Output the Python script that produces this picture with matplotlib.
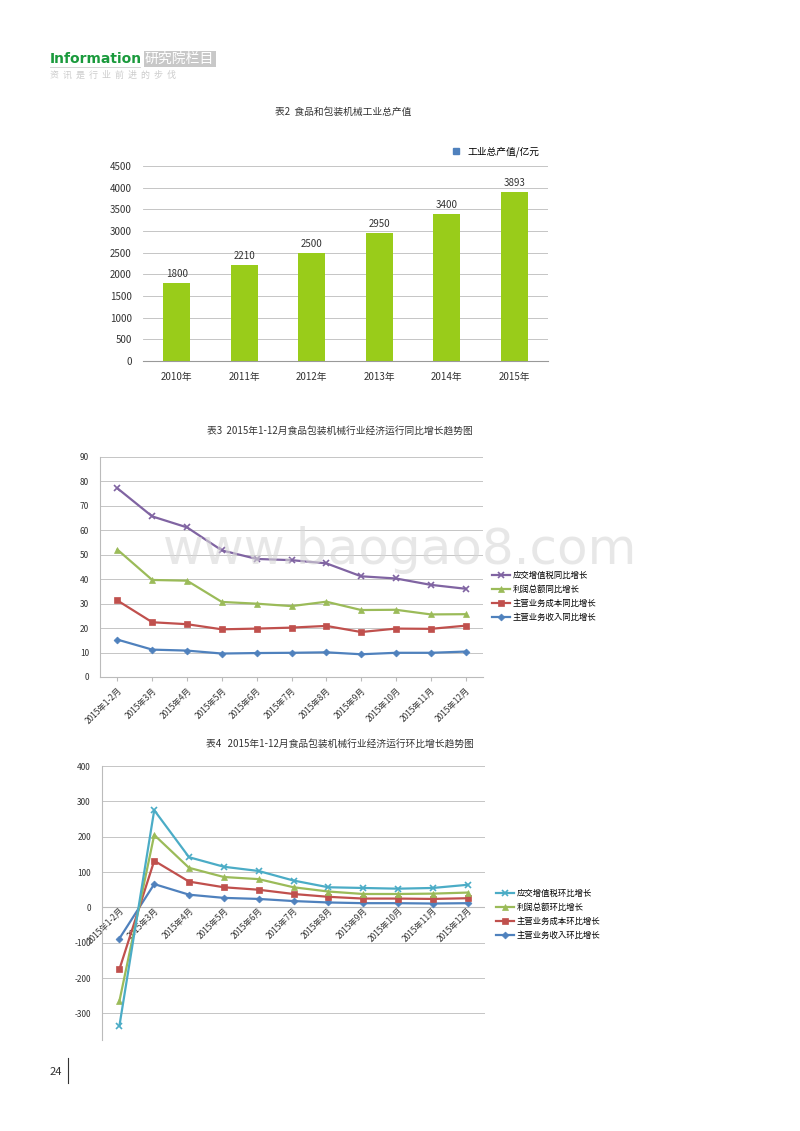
import matplotlib
matplotlib.use("Agg")
import matplotlib.pyplot as plt
from matplotlib.lines import Line2D
from matplotlib import font_manager

cjk = sorted(set(f.name for f in font_manager.fontManager.ttflist if "CJK" in f.name))
sans = [n for n in cjk if "Sans" in n]
pref = sorted(sans or cjk, key=lambda n: 0 if "SC" in n else 1)
plt.rcParams["font.family"] = pref[:1] if pref else ["DejaVu Sans"]
plt.rcParams["axes.unicode_minus"] = False

years = ["2010年", "2011年", "2012年", "2013年", "2014年", "2015年"]
output = [1800, 2210, 2500, 2950, 3400, 3893]

months = ["2015年1-2月", "2015年3月", "2015年4月", "2015年5月", "2015年6月", "2015年7月",
          "2015年8月", "2015年9月", "2015年10月", "2015年11月", "2015年12月"]
yoy_tax = [77.2, 65.7, 61.2, 51.8, 48.3, 47.8, 46.5, 41.2, 40.3, 37.7, 36.1]
yoy_profit = [52.1, 39.7, 39.4, 30.7, 30.0, 29.0, 30.8, 27.4, 27.5, 25.6, 25.7]
yoy_cost = [31.3, 22.4, 21.6, 19.5, 19.8, 20.2, 20.9, 18.4, 19.8, 19.7, 21.0]
yoy_rev = [15.3, 11.2, 10.8, 9.6, 9.8, 9.9, 10.1, 9.3, 9.9, 9.9, 10.4]

mom_tax = [-335, 275, 142, 115, 103, 76, 57, 55, 53, 55, 64]
mom_profit = [-265, 205, 112, 86, 80, 57, 45, 38, 38, 39, 42]
mom_cost = [-175, 132, 73, 57, 50, 38, 30, 25, 25, 24, 26]
mom_rev = [-88, 66, 36, 27, 24, 18, 14, 12, 12, 11, 12]

fig = plt.figure(figsize=(8, 11.31), dpi=100)
tc = "#333333"

# header
fig.text(50/800, 1-59/1131, "Information", color="#1a9a3c", fontsize=10, fontweight="bold", va="center", family="DejaVu Sans")
fig.text(145/800, 1-59/1131, "研究院栏目", color="white", fontsize=10, va="center",
         bbox=dict(facecolor="#c8c8c8", edgecolor="none", pad=1))
fig.text(50/800, 1-75/1131, "资  讯  是  行  业  前  进  的  步  伐", color="#cccccc", fontsize=6.5, va="center")
fig.add_artist(Line2D([50/800, 140/800], [1-67/1131]*2, color="#cccccc", lw=0.6))

# Chart 1
fig.text(343/800, 1-112/1131, "表2  食品和包装机械工业总产值", fontsize=7, ha="center", va="center", color=tc)
ax1 = fig.add_axes([143/800, 1-361/1131, 405/800, 195/1131])
x = range(len(years))
ax1.bar(x, output, width=0.4, color="#99cc1a")
for i, v in enumerate(output):
    ax1.text(i, v + 90, str(v), ha="center", va="bottom", fontsize=7, color=tc)
ax1.set_ylim(0, 4500)
ax1.set_yticks(range(0, 4501, 500))
ax1.set_xlim(-0.5, 5.5)
ax1.set_xticks(list(x))
ax1.set_xticklabels(years)
ax1.grid(axis="y", color="#bbbbbb", lw=0.6)
ax1.set_axisbelow(True)
for s in ["top", "right", "left"]:
    ax1.spines[s].set_visible(False)
ax1.spines["bottom"].set_color("#999999")
ax1.tick_params(labelsize=7, length=0, colors=tc)
ax1.tick_params(axis="y", pad=8)
ax1.tick_params(axis="x", pad=8)
ax1.legend(handles=[Line2D([], [], marker="s", ls="none", color="#4f81bd", markersize=4)],
           labels=["工业总产值/亿元"], loc="lower right", bbox_to_anchor=(1.0, 1.0),
           frameon=False, fontsize=7, handletextpad=0.2)

styles = [("#4f81bd", "D", 3.5), ("#c0504d", "s", 4.5), ("#9bbb59", "^", 5), ("#8064a2", "x", 5)]

def draw_lines(ax, data, names, colors_override=None):
    handles = []
    for (c, m, ms), d, n in zip(styles, data, names):
        if colors_override and m == "x":
            c = colors_override
        h, = ax.plot(range(len(months)), d, color=c, marker=m, markersize=ms, lw=1.6, label=n,
                     markeredgewidth=1.2 if m == "x" else 0.5)
        handles.append(h)
    return handles

# Chart 3
fig.text(340/800, 1-431/1131, "表3  2015年1-12月食品包装机械行业经济运行同比增长趋势图", fontsize=7, ha="center", va="center", color=tc)
ax2 = fig.add_axes([100/800, 1-677/1131, 383/800, 220/1131])
names3 = ["主营业务收入同比增长", "主营业务成本同比增长", "利润总额同比增长", "应交增值税同比增长"]
h3 = draw_lines(ax2, [yoy_rev, yoy_cost, yoy_profit, yoy_tax], names3)
ax2.set_ylim(0, 90)
ax2.set_yticks(range(0, 91, 10))
ax2.set_xlim(-0.5, 10.5)
ax2.set_xticks(range(len(months)))
ax2.set_xticklabels(months, rotation=45, ha="right", rotation_mode="anchor")
ax2.grid(axis="y", color="#bbbbbb", lw=0.6)
ax2.set_axisbelow(True)
for s in ["top", "right"]:
    ax2.spines[s].set_visible(False)
ax2.spines["left"].set_color("#bbbbbb")
ax2.spines["bottom"].set_color("#bbbbbb")
ax2.tick_params(labelsize=6, colors=tc)
ax2.tick_params(axis="y", length=0, pad=8)
ax2.tick_params(axis="x", length=3, color="#bbbbbb")
fig.legend(handles=h3[::-1], labels=names3[::-1], loc="upper left",
           bbox_to_anchor=(484/800, 1-563/1131), frameon=False, fontsize=6,
           handlelength=2.2, labelspacing=0.6, handletextpad=0.3)

fig.text(400/800, 1-550/1131, "www.baogao8.com", fontsize=36, color="#d8d8d8", alpha=0.6,
         ha="center", va="center", zorder=0, family="DejaVu Sans")

# Chart 4
fig.text(340/800, 1-744/1131, "表4   2015年1-12月食品包装机械行业经济运行环比增长趋势图", fontsize=7, ha="center", va="center", color=tc)
ax3 = fig.add_axes([102/800, 1-1040/1131, 383/800, 274/1131])
names4 = ["主营业务收入环比增长", "主营业务成本环比增长", "利润总额环比增长", "应交增值税环比增长"]
h4 = draw_lines(ax3, [mom_rev, mom_cost, mom_profit, mom_tax], names4, colors_override="#4bacc6")
ax3.set_ylim(-375, 400)
ax3.set_yticks(range(-300, 401, 100))
ax3.set_xlim(-0.5, 10.5)
ax3.set_xticks(range(len(months)))
ax3.set_xticklabels(months, rotation=45, ha="right", rotation_mode="anchor")
ax3.grid(axis="y", color="#bbbbbb", lw=0.6)
ax3.set_axisbelow(True)
for s in ["top", "right", "bottom"]:
    ax3.spines[s].set_visible(False)
ax3.spines["left"].set_color("#bbbbbb")
ax3.axhline(0, color="#bbbbbb", lw=0.8, zorder=0)
ax3.tick_params(labelsize=6, colors=tc)
ax3.tick_params(axis="y", length=0, pad=8)
ax3.tick_params(axis="x", length=0, pad=2)
for lab in ax3.get_xticklabels():
    lab.set_y(0.50)
fig.legend(handles=[h4[3], h4[2], h4[1], h4[0]], labels=["应交增值税环比增长", "利润总额环比增长", "主营业务成本环比增长", "主营业务收入环比增长"],
           loc="upper left", bbox_to_anchor=(488/800, 1-881/1131), frameon=False, fontsize=6,
           handlelength=2.2, labelspacing=0.6, handletextpad=0.3)

# page number
fig.text(50/800, 1-1072/1131, "24", fontsize=8, va="center", color=tc)
fig.add_artist(Line2D([68/800, 68/800], [1-1083/1131, 1-1058/1131], color="#333333", lw=0.8))

fig.savefig("out.png", dpi=100, facecolor="white")
